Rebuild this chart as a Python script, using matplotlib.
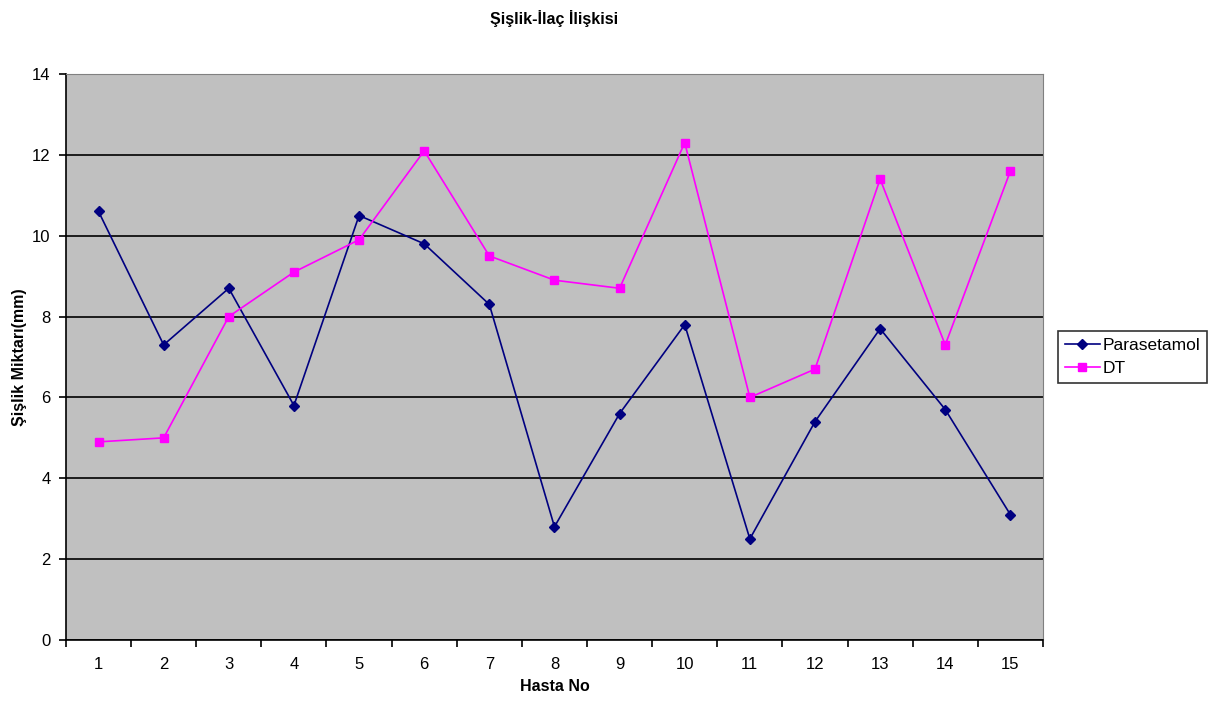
import matplotlib.pyplot as plt
import numpy as np

plt.rcParams['font.family'] = ['Liberation Sans', 'DejaVu Sans']

hasta = list(range(1, 16))
parasetamol = [10.6, 7.3, 8.7, 5.8, 10.5, 9.8, 8.3, 2.8, 5.6, 7.8, 2.5, 5.4, 7.7, 5.7, 3.1]
dt = [4.9, 5.0, 8.0, 9.1, 9.9, 12.1, 9.5, 8.9, 8.7, 12.3, 6.0, 6.7, 11.4, 7.3, 11.6]

fig = plt.figure(figsize=(12.26, 7.11), dpi=100)
ax = fig.add_axes([0.0538, 0.0999, 0.7969, 0.796])
ax.set_facecolor('#C0C0C0')

x = np.arange(len(hasta))
ax.plot(x, parasetamol, color='#000080', marker='D', markersize=5, linewidth=1.2, label='Parasetamol')
ax.plot(x, dt, color='#FF00FF', marker='s', markersize=6, linewidth=1.2, label='DT')

ax.set_xlim(-0.5, len(hasta) - 0.5)
ax.set_ylim(0, 14)
ax.set_yticks(range(0, 15, 2))
ax.yaxis.grid(True, color='black', linewidth=1.2)
ax.set_axisbelow(True)

# kategori ekseni: etiketler ortada, tikler aralarda
ax.set_xticks(x)
ax.set_xticklabels([str(h) for h in hasta], fontsize=12)
ax.set_xticks(np.arange(-0.5, len(hasta)), minor=True)
ax.tick_params(axis='x', which='major', length=0, pad=12)
ax.tick_params(axis='x', which='minor', length=5, width=1.2, direction='out')
ax.tick_params(axis='y', length=5, width=1.2, labelsize=12, pad=6)

for side in ['top', 'right']:
    ax.spines[side].set_color('#808080')
for side in ['left', 'bottom']:
    ax.spines[side].set_linewidth(1.2)

ax.set_title('Şişlik-İlaç İlişkisi', fontsize=11.5, fontweight='bold', pad=36)
ax.set_xlabel('Hasta No', fontsize=11.5, fontweight='bold', labelpad=5)
ax.set_ylabel('Şişlik Miktarı(mm)', fontsize=11.5, fontweight='bold', labelpad=4)

leg = ax.legend(loc='center left', bbox_to_anchor=(1.0154, 0.5), borderaxespad=0, fontsize=12.5,
                frameon=True, fancybox=False, edgecolor='black', borderpad=0.4,
                handlelength=2.0, handletextpad=0.15, labelspacing=0.45)
leg.get_frame().set_linewidth(1.2)

plt.savefig('out.png', dpi=100)
